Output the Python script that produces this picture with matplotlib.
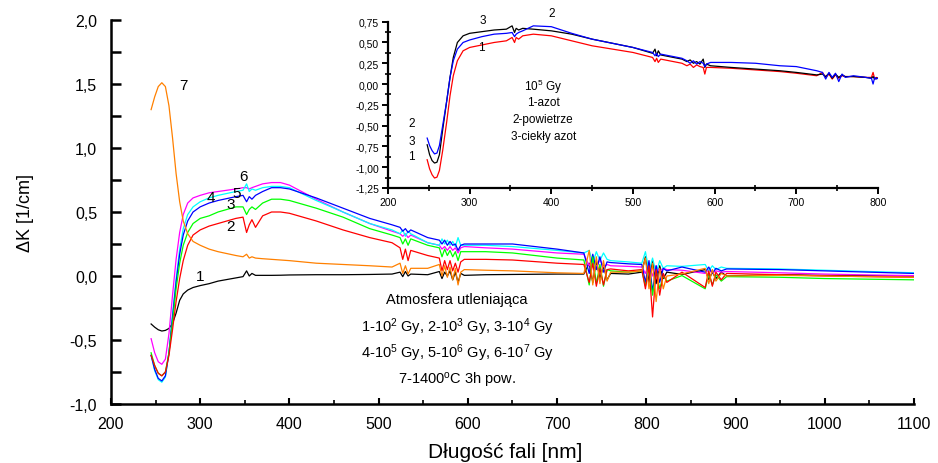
import numpy as np
import matplotlib
matplotlib.use("Agg")
import matplotlib.pyplot as plt
from matplotlib.ticker import MultipleLocator

plt.rcParams['font.family'] = ['Liberation Sans', 'DejaVu Sans']
plt.rcParams['mathtext.default'] = 'regular'

# main chart: wavelength grid [nm] and delta K [1/cm] per curve
nm = [245, 249, 253, 257, 261, 265, 269, 273, 277, 281, 286, 292, 300, 310, 320, 340, 348, 352, 355, 358,
      362, 370, 380, 390, 400, 430, 460, 490, 515, 524, 527, 530, 533, 536, 555, 568, 571, 574, 577, 580,
      583, 586, 589, 592, 596, 620, 650, 700, 730, 736, 740, 744, 748, 752, 756, 760, 780, 795, 799, 803,
      807, 811, 815, 819, 823, 840, 866, 870, 874, 878, 884, 890, 950, 1000, 1050, 1100]

k1 = [-0.375, -0.40, -0.42, -0.43, -0.425, -0.41, -0.37, -0.29, -0.19, -0.14, -0.11, -0.09, -0.075, -0.06, -0.04, -0.015, -0.005, 0.04, 0.0, 0.02,
      0.005, 0.005, 0.005, 0.006, 0.008, 0.01, 0.01, 0.012, 0.015, 0.03, -0.005, 0.035, 0.0, 0.015, 0.01, 0.035, -0.02, 0.03, 0.0, 0.04,
      -0.03, 0.03, -0.05, 0.02, 0.005, 0.01, 0.012, 0.015, 0.015, 0.10, -0.05, 0.12, -0.02, 0.08, -0.03, 0.02, 0.015, 0.03, 0.15, -0.05,
      0.12, -0.06, 0.08, -0.02, 0.03, 0.012, 0.05, -0.03, 0.03, -0.02, 0.03, 0.0, 0.01, 0.005, 0.003, 0.0]
k2 = [-0.62, -0.70, -0.76, -0.78, -0.75, -0.62, -0.42, -0.20, -0.02, 0.12, 0.24, 0.32, 0.36, 0.39, 0.41, 0.45, 0.46, 0.34, 0.40, 0.44,
      0.38, 0.47, 0.50, 0.50, 0.49, 0.43, 0.36, 0.30, 0.26, 0.22, 0.13, 0.21, 0.12, 0.20, 0.16, 0.14, 0.04, 0.12, 0.05, 0.12,
      0.04, 0.10, 0.03, 0.11, 0.13, 0.13, 0.125, 0.10, 0.09, -0.05, 0.10, -0.08, 0.06, -0.07, 0.05, 0.055, 0.04, 0.05, -0.10, 0.08,
      -0.32, 0.05, -0.15, 0.02, -0.05, 0.03, -0.09, 0.04, -0.08, 0.03, -0.03, 0.02, 0.01, 0.0, -0.005, -0.01]
k3 = [-0.60, -0.70, -0.76, -0.78, -0.75, -0.60, -0.36, -0.10, 0.10, 0.24, 0.34, 0.41, 0.45, 0.47, 0.50, 0.54, 0.54, 0.48, 0.52, 0.54,
      0.52, 0.57, 0.60, 0.60, 0.59, 0.53, 0.46, 0.37, 0.32, 0.30, 0.25, 0.29, 0.24, 0.29, 0.24, 0.22, 0.15, 0.21, 0.16, 0.20,
      0.15, 0.19, 0.12, 0.19, 0.19, 0.19, 0.18, 0.14, 0.125, -0.07, 0.15, -0.06, 0.09, -0.08, 0.05, 0.04, 0.03, 0.04, -0.08, 0.06,
      -0.15, 0.04, -0.10, 0.0, -0.04, 0.003, -0.10, 0.02, -0.07, 0.01, -0.04, -0.005, -0.01, -0.02, -0.025, -0.03]
k4 = [-0.62, -0.73, -0.80, -0.82, -0.78, -0.60, -0.32, -0.05, 0.17, 0.32, 0.43, 0.50, 0.54, 0.57, 0.59, 0.62, 0.63, 0.58, 0.62, 0.60,
      0.63, 0.66, 0.69, 0.69, 0.68, 0.61, 0.53, 0.45, 0.40, 0.38, 0.35, 0.37, 0.34, 0.36, 0.30, 0.28, 0.25, 0.28, 0.24, 0.27,
      0.24, 0.25, 0.20, 0.24, 0.25, 0.25, 0.25, 0.21, 0.18, 0.02, 0.17, 0.05, 0.15, 0.03, 0.11, 0.105, 0.095, 0.09, -0.05, 0.12,
      -0.12, 0.08, -0.05, 0.06, 0.04, 0.07, 0.03, 0.07, 0.02, 0.06, 0.04, 0.055, 0.05, 0.04, 0.03, 0.02]
k5 = [-0.62, -0.74, -0.81, -0.83, -0.79, -0.60, -0.30, -0.02, 0.21, 0.37, 0.48, 0.54, 0.58, 0.61, 0.63, 0.66, 0.67, 0.72, 0.66, 0.68,
      0.67, 0.69, 0.70, 0.70, 0.69, 0.59, 0.50, 0.41, 0.36, 0.33, 0.36, 0.31, 0.35, 0.33, 0.26, 0.24, 0.29, 0.25, 0.28, 0.24,
      0.27, 0.23, 0.30, 0.24, 0.24, 0.24, 0.23, 0.20, 0.18, 0.20, 0.10, 0.19, 0.12, 0.18, 0.13, 0.12, 0.11, 0.10, 0.19, 0.04,
      0.14, 0.02, 0.12, 0.06, 0.08, 0.075, 0.09, 0.04, 0.08, 0.05, 0.07, 0.06, 0.055, 0.045, 0.035, 0.025]
k6 = [-0.49, -0.60, -0.67, -0.69, -0.65, -0.45, -0.15, 0.13, 0.34, 0.48, 0.57, 0.61, 0.63, 0.65, 0.66, 0.68, 0.69, 0.69, 0.68, 0.69,
      0.70, 0.72, 0.73, 0.73, 0.71, 0.60, 0.50, 0.41, 0.35, 0.33, 0.31, 0.33, 0.30, 0.32, 0.26, 0.24, 0.21, 0.23, 0.20, 0.23,
      0.20, 0.22, 0.18, 0.22, 0.23, 0.22, 0.21, 0.18, 0.17, 0.08, 0.15, 0.06, 0.13, 0.07, 0.09, 0.08, 0.075, 0.07, 0.02, 0.10,
      0.0, 0.08, 0.03, 0.06, 0.05, 0.045, 0.02, 0.05, 0.02, 0.04, 0.03, 0.035, 0.025, 0.015, 0.008, 0.003]
k7 = [1.30, 1.40, 1.48, 1.51, 1.48, 1.33, 1.08, 0.80, 0.58, 0.43, 0.33, 0.27, 0.24, 0.21, 0.19, 0.16, 0.15, 0.17, 0.14, 0.15,
      0.14, 0.135, 0.13, 0.125, 0.12, 0.10, 0.09, 0.08, 0.07, 0.10, 0.02, 0.08, 0.015, 0.06, 0.06, 0.09, 0.0, 0.08, -0.01, 0.07,
      -0.03, 0.06, -0.07, 0.03, 0.05, 0.045, 0.04, 0.025, 0.02, 0.20, -0.07, 0.15, -0.06, 0.12, -0.04, 0.03, 0.03, 0.04, 0.14, -0.10,
      0.10, -0.20, 0.06, -0.10, 0.0, 0.016, 0.06, -0.06, 0.05, -0.04, 0.02, 0.0, 0.005, 0.0, -0.005, -0.01]

# inset: 10^5 Gy in three atmospheres
nm_in = [248, 251, 254, 257, 260, 263, 267, 272, 276, 280, 285, 292, 300, 315, 330, 345, 352, 355, 357, 360,
         365, 378, 400, 425, 450, 475, 500, 524, 527, 529, 531, 534, 560, 566, 570, 574, 578, 582, 586, 588,
         590, 595, 620, 650, 680, 700, 725, 732, 736, 740, 744, 748, 752, 756, 760, 770, 785, 792, 794, 796,
         798, 800]
azot = [-0.91, -1.02, -1.09, -1.13, -1.12, -1.04, -0.80, -0.45, -0.14, 0.10, 0.28, 0.40, 0.44, 0.47, 0.50, 0.52, 0.56, 0.50, 0.56, 0.54,
        0.58, 0.60, 0.58, 0.52, 0.46, 0.42, 0.38, 0.32, 0.27, 0.31, 0.26, 0.30, 0.25, 0.22, 0.24, 0.20, 0.23, 0.21, 0.20, 0.12,
        0.20, 0.20, 0.19, 0.17, 0.15, 0.13, 0.10, 0.14, 0.08, 0.12, 0.06, 0.11, 0.07, 0.10, 0.09, 0.09, 0.08, 0.08, 0.14, 0.06,
        0.08, 0.07]
powietrze = [-0.65, -0.74, -0.80, -0.84, -0.83, -0.74, -0.50, -0.20, 0.08, 0.28, 0.42, 0.50, 0.53, 0.57, 0.60, 0.61, 0.62, 0.57, 0.60, 0.62,
             0.64, 0.70, 0.69, 0.61, 0.54, 0.49, 0.44, 0.38, 0.34, 0.37, 0.33, 0.36, 0.31, 0.28, 0.25, 0.28, 0.24, 0.27, 0.25, 0.21,
             0.24, 0.26, 0.26, 0.25, 0.22, 0.21, 0.16, 0.14, 0.06, 0.14, 0.08, 0.13, 0.03, 0.12, 0.08, 0.10, 0.08, 0.07, 0.0, 0.08,
             0.06, 0.07]
ciekly = [-0.73, -0.85, -0.92, -0.95, -0.94, -0.85, -0.55, -0.20, 0.08, 0.32, 0.50, 0.58, 0.61, 0.63, 0.65, 0.66, 0.70, 0.62, 0.67, 0.65,
          0.67, 0.66, 0.64, 0.60, 0.54, 0.49, 0.44, 0.37, 0.42, 0.34, 0.40, 0.35, 0.30, 0.27, 0.29, 0.25, 0.27, 0.24, 0.30, 0.20,
          0.24, 0.22, 0.20, 0.18, 0.16, 0.14, 0.11, 0.12, 0.09, 0.13, 0.07, 0.12, 0.08, 0.11, 0.09, 0.09, 0.08, 0.07, 0.09, 0.06,
          0.07, 0.07]

yticks_main = [-1.0, -0.5, 0.0, 0.5, 1.0, 1.5, 2.0]
yticklabels_main = ['-1,0', '-0,5', '0,0', '0,5', '1,0', '1,5', '2,0']
yticks_in = [-1.25, -1.0, -0.75, -0.5, -0.25, 0.0, 0.25, 0.5, 0.75]
yticklabels_in = ['-1,25', '-1,00', '-0,75', '-0,50', '-0,25', '0,00', '0,25', '0,50', '0,75']

fig = plt.figure(figsize=(9.38, 4.64), dpi=100)
ax = fig.add_axes([0.1183, 0.1272, 0.8561, 0.8275])

lw = 0.9
ax.plot(nm, k1, color='black', lw=lw)
ax.plot(nm, k6, color='#ff00ff', lw=lw)
ax.plot(nm, k5, color='#00ffff', lw=lw)
ax.plot(nm, k4, color='#0000ff', lw=lw)
ax.plot(nm, k3, color='#00ff00', lw=lw)
ax.plot(nm, k2, color='#ff0000', lw=lw)
ax.plot(nm, k7, color='#ff8000', lw=lw)

ax.set_xlim(200, 1100)
ax.set_ylim(-1.0, 2.0)
ax.xaxis.set_major_locator(MultipleLocator(100))
ax.xaxis.set_minor_locator(MultipleLocator(50))
ax.set_yticks(yticks_main)
ax.set_yticklabels(yticklabels_main)
ax.yaxis.set_minor_locator(MultipleLocator(0.25))
for s in ['top', 'right']:
    ax.spines[s].set_visible(False)
for s in ['left', 'bottom']:
    ax.spines[s].set_linewidth(1.8)
ax.tick_params(axis='y', which='both', direction='in', length=7, width=1.8, labelsize=11.5, pad=10)
ax.tick_params(axis='x', which='major', direction='in', length=4, width=1.5, labelsize=11.5, pad=9)
ax.tick_params(axis='x', which='minor', direction='in', length=3, width=1.2)

fig.text(505 / 938, 1 - 453 / 464, 'Długość fali [nm]', ha='center', va='center', fontsize=15)
fig.text(25 / 938, 1 - 213 / 464, 'ΔK [1/cm]', ha='center', va='center', rotation=90, fontsize=13)

# curve numbers
for txt, x, y in [('7', 281, 1.49), ('6', 348, 0.78), ('5', 341, 0.645), ('4', 312, 0.615),
                  ('3', 334, 0.56), ('2', 334, 0.39), ('1', 300, 0.0)]:
    ax.text(x, y, txt, ha='center', va='center', fontsize=11)

notes = ['Atmosfera utleniająca',
         '1-10$^2$ Gy, 2-10$^3$ Gy, 3-10$^4$ Gy',
         '4-10$^5$ Gy, 5-10$^6$ Gy, 6-10$^7$ Gy',
         '7-1400$^o$C 3h pow.']
for txt, yf in zip(notes, [0.273, 0.203, 0.135, 0.065]):
    ax.text(0.431, yf, txt, transform=ax.transAxes, ha='center', va='center', fontsize=10.5)

# inset
axi = fig.add_axes([0.4136, 0.5927, 0.5224, 0.3584])
axi.patch.set_alpha(0)
axi.plot(nm_in, azot, color='#ff0000', lw=0.9)
axi.plot(nm_in, ciekly, color='black', lw=0.9)
axi.plot(nm_in, powietrze, color='#0000ff', lw=0.9)
axi.set_xlim(200, 800)
axi.set_ylim(-1.25, 0.75)
axi.xaxis.set_major_locator(MultipleLocator(100))
axi.xaxis.set_minor_locator(MultipleLocator(50))
axi.set_yticks(yticks_in)
axi.set_yticklabels(yticklabels_in)
axi.yaxis.set_minor_locator(MultipleLocator(0.125))
for s in ['top', 'right']:
    axi.spines[s].set_visible(False)
for s in ['left', 'bottom']:
    axi.spines[s].set_linewidth(1.6)
axi.tick_params(which='major', direction='out', length=4, width=1.4, labelsize=7.5, pad=2.5)
axi.tick_params(which='minor', direction='inout', length=4, width=1.2)

for txt, x, y in [('3', 316, 0.77), ('2', 400, 0.85), ('1', 314, 0.44),
                  ('2', 229, -0.47), ('3', 229, -0.69), ('1', 229, -0.87)]:
    axi.text(x, y, txt, ha='center', va='center', fontsize=8.5, clip_on=False)

inset_notes = ['10$^5$ Gy', '1-azot', '2-powietrze', '3-ciekły azot']
for txt, y in zip(inset_notes, [-0.027, -0.22, -0.425, -0.63]):
    axi.text(390, y, txt, ha='center', va='center', fontsize=8.5)

fig.savefig('out.png', dpi=100)
